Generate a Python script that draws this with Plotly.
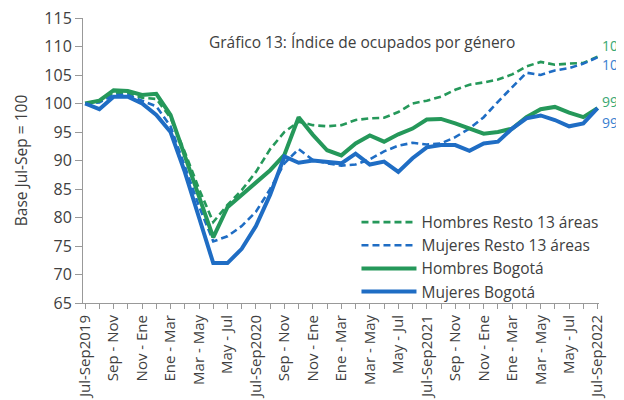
import plotly.graph_objects as go

periods = ["Jul-Sep2019", "Ago - Oct", "Sep - Nov", "Oct - Dic", "Nov - Ene", "Dic - Feb",
           "Ene - Mar", "Feb - Abr", "Mar - May", "Abr - Jun", "May - Jul", "Jun - Ago",
           "Jul-Sep2020", "Ago - Oct", "Sep - Nov", "Oct - Dic", "Nov - Ene", "Dic - Feb",
           "Ene - Mar", "Feb - Abr", "Mar - May", "Abr - Jun", "May - Jul", "Jun - Ago",
           "Jul-Sep2021", "Ago - Oct", "Sep - Nov", "Oct - Dic", "Nov - Ene", "Dic - Feb",
           "Ene - Mar", "Feb - Abr", "Mar - May", "Abr - Jun", "May - Jul", "Jun - Ago",
           "Jul-Sep2022"]

hombres_resto = [100, 100.5, 101.8, 101.8, 101, 100.8, 97.5, 91.5, 85, 79.2, 82.2,
                 84.8, 88, 92, 95, 96.8, 96.2, 96, 96.2, 97.1, 97.4,
                 97.5, 98.5, 100, 100.5, 101.2, 102.4, 103.3, 103.7, 104.2, 105.1,
                 106.5, 107.3, 106.8, 107, 107.1, 108.2]
mujeres_resto = [100, 100.2, 101.5, 101.5, 100.5, 99.5, 96, 89, 82, 75.8, 76.7,
                 78.5, 81, 85, 89.5, 92, 90.1, 89.5, 89.1, 89.3, 90.2,
                 91.6, 92.6, 93.1, 92.8, 93, 94.1, 95.6, 97.6, 100.3, 102.8,
                 105.4, 105, 105.8, 106.2, 107, 108.1]
hombres_bogota = [100, 100.5, 102.3, 102.2, 101.5, 101.7, 98, 91, 83.5, 76.5, 81.8,
                  84, 86, 88.3, 91, 97.6, 94.5, 91.8, 90.9, 93, 94.4,
                  93.3, 94.6, 95.6, 97.2, 97.3, 96.5, 95.6, 94.7, 95, 95.6,
                  97.6, 99, 99.4, 98.4, 97.6, 99.2]
mujeres_bogota = [100, 99, 101.2, 101.2, 100, 98, 95, 88, 80, 72, 72,
                  74.5, 78.5, 84, 90.7, 89.6, 90, 89.7, 89.5, 91.2, 89.3,
                  89.8, 88, 90.4, 92.3, 92.7, 92.7, 91.7, 93, 93.3, 95.6,
                  97.4, 97.9, 97.1, 96, 96.5, 99.2]

y_ticks = [65, 70, 75, 80, 85, 90, 95, 100, 105, 110, 115]

GREEN = "#25985a"
BLUE = "#1f6dc4"
GREEN_TXT = "#3aa872"
BLUE_TXT = "#3a80d0"
FONT = "Open Sans"
TXT = "#404040"
AXC = "#999999"

x = list(range(len(periods)))

series = [
    ("Hombres Resto 13 áreas", hombres_resto, GREEN, "7px,4px", 2.6),
    ("Mujeres Resto 13 áreas", mujeres_resto, BLUE, "7px,4px", 2.6),
    ("Hombres Bogotá", hombres_bogota, GREEN, "solid", 4),
    ("Mujeres Bogotá", mujeres_bogota, BLUE, "solid", 4),
]

fig = go.Figure()
for name, vals, col, dash, w in series:
    fig.add_trace(go.Scatter(x=x, y=vals, mode="lines", name=name,
                             line=dict(color=col, width=w, dash=dash)))

# end-of-series value labels
end_specs = [(hombres_resto, GREEN_TXT, 11), (mujeres_resto, BLUE_TXT, -7),
             (hombres_bogota, GREEN_TXT, 7), (mujeres_bogota, BLUE_TXT, -14)]
for vals, col, ys in end_specs:
    fig.add_annotation(x=x[-1], y=vals[-1], text=f"{vals[-1]:.0f}", showarrow=False,
                       xanchor="left", xshift=2, yshift=ys,
                       font=dict(family=FONT, size=14, color=col))

fig.add_annotation(x=0.541, y=0.961, xref="paper", yref="paper",
                   text="Gráfico 13: Índice de ocupados por género", showarrow=False,
                   font=dict(family=FONT, size=15.5, color=TXT))

# page body has an 8px default margin, so the figure is sized to fit the window
fig.update_layout(
    width=616, height=392,
    margin=dict(l=75, r=25, t=10, b=97, autoexpand=False),
    paper_bgcolor="white", plot_bgcolor="white",
    font=dict(family=FONT, color=TXT),
    showlegend=True,
    legend=dict(x=0.53, y=0.342, xanchor="left", yanchor="top",
                font=dict(family=FONT, size=15.5, color=TXT),
                bgcolor="rgba(0,0,0,0)", itemwidth=55, tracegroupgap=0),
    xaxis=dict(range=[-0.15, 36.1], tickmode="array", automargin=False,
               tickvals=x[::2], ticktext=periods[::2], tickangle=-90,
               tickfont=dict(family=FONT, size=15, color=TXT),
               ticklabeloverflow="allow",
               showgrid=False, zeroline=False, showline=True, linecolor=AXC,
               ticks="outside", ticklen=5, tickcolor=AXC,
               minor=dict(ticks="outside", dtick=1, ticklen=5, tickcolor=AXC,
                          showgrid=False)),
    yaxis=dict(range=[65, 115], tickvals=y_ticks, automargin=False,
               tickfont=dict(family=FONT, size=16, color=TXT),
               ticklabeloverflow="allow",
               showgrid=False, zeroline=False, showline=True, linecolor=AXC,
               ticks="outside", ticklen=7, tickcolor=AXC,
               title=dict(text="Base Jul-Sep = 100", standoff=12,
                          font=dict(family=FONT, size=15.5, color=TXT))),
)

fig.write_html("out.html")
